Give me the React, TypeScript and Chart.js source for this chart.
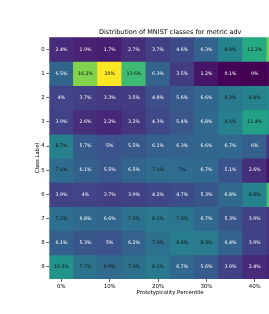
import React, { useEffect, useRef } from 'react';
import { Chart, registerables } from 'chart.js';

Chart.register(...registerables);

const columnLabels = ['0%', '5%', '10%', '15%', '20%', '25%', '30%', '35%', '40%', '45%'];
const rowLabels = ['0', '1', '2', '3', '4', '5', '6', '7', '8', '9'];

const class0 = [2.4, 1.9, 1.7, 2.7, 3.7, 4.6, 6.3, 8.8, 12.2, 15.5];
const class1 = [6.5, 16.2, 20, 13.6, 6.3, 3.5, 1.2, 0.1, 0, 0.3];
const class2 = [4, 3.7, 3.3, 3.5, 4.8, 5.6, 6.6, 8.2, 8.8, 9.5];
const class3 = [3.9, 2.6, 2.2, 3.2, 4.3, 5.4, 6.8, 8.6, 11.4, 11.0];
const class4 = [8.7, 5.7, 5, 5.5, 6.1, 6.3, 6.6, 6.7, 6, 3.0];
const class5 = [7.1, 6.1, 5.5, 6.5, 7.1, 7, 6.7, 5.1, 2.6, 1.0];
const class6 = [3.9, 4, 3.7, 3.9, 4.2, 4.7, 5.3, 6.8, 8.8, 14.0];
const class7 = [7.2, 6.8, 6.6, 7.5, 8.1, 7.8, 6.7, 5.3, 3.9, 3.0];
const class8 = [6.1, 5.3, 5, 6.2, 7.4, 8.4, 8.3, 6.4, 3.9, 3.0];
const class9 = [10.2, 7.7, 6.9, 7.4, 8.1, 6.7, 5.6, 3.9, 2.4, 2.0];

const rows = [class0, class1, class2, class3, class4, class5, class6, class7, class8, class9];

const colorMin = 0;
const colorMax = 20;
const darkTextFrom = 6.85;

const viridisStops = [
  '#440154', '#482475', '#414487', '#355f8d', '#2a788e', '#21918c',
  '#22a884', '#44bf70', '#7ad151', '#bddf26', '#fde725',
];

function hexToRgb(h: string): number[] {
  return [parseInt(h.slice(1, 3), 16), parseInt(h.slice(3, 5), 16), parseInt(h.slice(5, 7), 16)];
}

function viridisRgb(t: number): number[] {
  const c = Math.max(0, Math.min(1, t)) * (viridisStops.length - 1);
  const i = Math.min(Math.floor(c), viridisStops.length - 2);
  const f = c - i;
  const a = hexToRgb(viridisStops[i]);
  const b = hexToRgb(viridisStops[i + 1]);
  return a.map((v, k) => Math.round(v + (b[k] - v) * f));
}

function colorFor(v: number): string {
  const [r, g, b] = viridisRgb((v - colorMin) / (colorMax - colorMin));
  return `rgb(${r},${g},${b})`;
}

const FONT = "'DejaVu Sans', sans-serif";

const annotatePlugin = {
  id: 'annotate',
  afterDraw(chart: any) {
    const ctx = chart.ctx;
    const area = chart.chartArea;
    ctx.save();
    ctx.font = `4.7px ${FONT}`;
    ctx.textAlign = 'center';
    ctx.textBaseline = 'middle';
    chart.data.datasets.forEach((ds: any, i: number) => {
      const meta = chart.getDatasetMeta(i);
      meta.data.forEach((el: any, j: number) => {
        const v = rows[i][j];
        ctx.fillStyle = v >= darkTextFrom ? '#111111' : '#ffffff';
        const cy = (el.y + el.base) / 2;
        ctx.fillText(`${+v.toFixed(1)}%`, el.x, cy);
      });
    });
    const cx = (area.left + area.right) / 2;
    ctx.fillStyle = '#000';
    ctx.font = `6.5px ${FONT}`;
    ctx.fillText('Distribution of MNIST classes for metric adv', cx, area.top - 5);
    ctx.font = `5.4px ${FONT}`;
    ctx.fillText('Prototypicality Percentile', cx, area.bottom + 13.5);
    ctx.translate(area.left - 12, (area.top + area.bottom) / 2);
    ctx.rotate(-Math.PI / 2);
    ctx.fillText('Class Label', 0, 0);
    ctx.restore();
  },
};

export default function App() {
  const ref = useRef<HTMLCanvasElement>(null);
  useEffect(() => {
    if (!ref.current) return;
    const chart = new Chart(ref.current, {
      type: 'bar',
      data: {
        labels: columnLabels,
        datasets: rows.map((r, i) => ({
          label: rowLabels[i],
          data: r.map(() => [i, i + 1]),
          backgroundColor: r.map((v) => colorFor(v)),
          borderWidth: 0,
          grouped: false,
          barPercentage: 1,
          categoryPercentage: 1,
          inflateAmount: 0.4,
        })) as any,
      },
      options: {
        animation: false,
        responsive: false,
        layout: { padding: { top: 37.3, left: 0, right: 0, bottom: 0 } },
        plugins: {
          legend: { display: false },
          tooltip: { enabled: false },
          title: { display: false },
        },
        scales: {
          x: {
            type: 'category',
            offset: true,
            border: { display: false },
            grid: {
              display: true,
              offset: false,
              drawOnChartArea: false,
              drawTicks: true,
              tickLength: 3,
              tickColor: '#000',
              tickWidth: 0.6,
            },
            ticks: {
              autoSkip: false,
              maxRotation: 0,
              minRotation: 0,
              padding: 1,
              color: '#000',
              font: { family: FONT, size: 5.4 },
              callback: function (this: any, v: any, i: number) {
                return i % 2 === 0 ? columnLabels[i] : null;
              },
            },
            afterFit: (s: any) => {
              s.height = 35;
            },
          },
          y: {
            type: 'linear',
            min: 0,
            max: 10,
            reverse: true,
            border: { display: false },
            grid: {
              display: true,
              drawOnChartArea: false,
              drawTicks: true,
              tickLength: 3,
              tickColor: '#000',
              tickWidth: 0.6,
            },
            afterBuildTicks: (s: any) => {
              s.ticks = rowLabels.map((_, i) => ({ value: i + 0.5 }));
            },
            ticks: {
              autoSkip: false,
              padding: 1.5,
              color: '#000',
              font: { family: FONT, size: 5.4 },
              callback: (v: any) => rowLabels[Math.round(Number(v) - 0.5)],
            },
            afterFit: (s: any) => {
              s.width = 49.3;
            },
          },
        },
      } as any,
      plugins: [annotatePlugin],
    });
    return () => chart.destroy();
  }, []);
  return (
    <div
      style={{
        position: 'absolute',
        left: 0,
        top: 0,
        width: 269,
        height: 314,
        overflow: 'hidden',
        background: '#fff',
      }}
    >
      <canvas ref={ref} width={291} height={314} style={{ display: 'block' }} />
    </div>
  );
}
